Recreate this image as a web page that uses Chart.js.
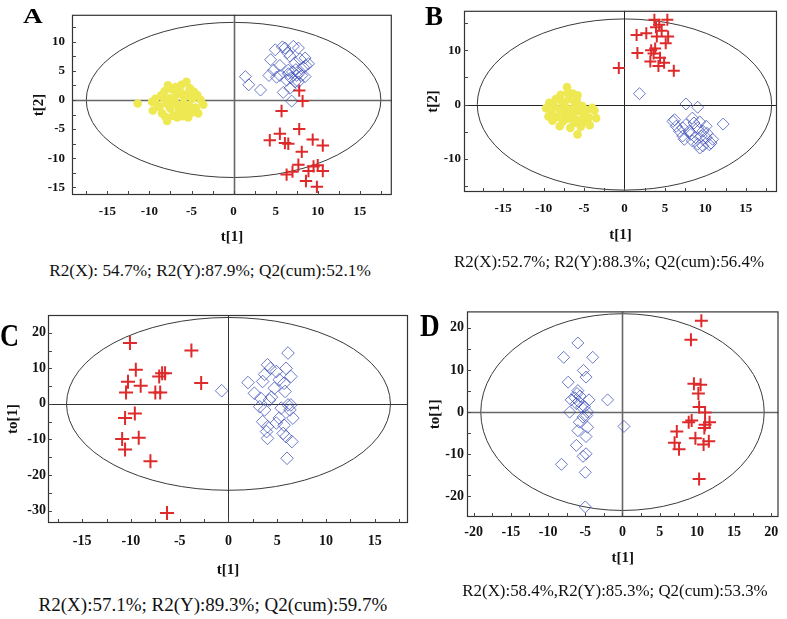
<!DOCTYPE html>
<html><head><meta charset="utf-8">
<script src="https://cdn.jsdelivr.net/npm/chart.js@4"></script>
<style>
body{margin:0;background:#fff;width:787px;height:619px;position:relative;overflow:hidden;font-family:'Liberation Serif',serif}
canvas{position:absolute}
.lab{position:absolute;font-weight:bold;color:#000;line-height:1;transform-origin:left top;white-space:nowrap}
.cap{position:absolute;text-align:center;color:#111;line-height:1;white-space:nowrap}
</style></head><body>
<canvas id="cA" width="400" height="250" style="left:0;top:0"></canvas>
<canvas id="cB" width="392" height="250" style="left:395px;top:0"></canvas>
<canvas id="cC" width="420" height="285" style="left:0;top:300px"></canvas>
<canvas id="cD" width="387" height="285" style="left:400px;top:300px"></canvas>

<div class="lab" style="left:23px;top:6px;font-size:21px;transform:scaleX(1.3)">A</div>
<div class="lab" style="left:425px;top:3px;font-size:27px">B</div>
<div class="lab" style="left:0px;top:320px;font-size:31px;transform:scaleX(0.85)">C</div>
<div class="lab" style="left:420px;top:309px;font-size:32px;transform:scaleX(0.85)">D</div>

<div class="cap" style="left:0px;width:420px;top:262px;font-size:17.3px">R2(X): 54.7%; R2(Y):87.9%; Q2(cum):52.1%</div>
<div class="cap" style="left:409px;width:400px;top:254px;font-size:16.9px">R2(X):52.7%; R2(Y):88.3%; Q2(cum):56.4%</div>
<div class="cap" style="left:3px;width:420px;top:595px;font-size:19px">R2(X):57.1%; R2(Y):89.3%; Q2(cum):59.7%</div>
<div class="cap" style="left:415px;width:400px;top:583px;font-size:16.9px">R2(X):58.4%,R2(Y):85.3%; Q2(cum):53.3%</div>

<script>
// ---------- Panel A : t[1] vs t[2] ----------
const aYellow = [[-11.4,-0.6],[-9.7,-0.3],[-9.6,-1.8],[-9.3,0.2],[-8.8,-1.2],[-8.6,0.8],[-8.5,-2.3],[-8.2,1.5],[-8.0,-0.5],[-7.9,-3.6],[-7.8,2.5],[-7.6,0.3],[-7.5,-1.5],[-7.3,1.8],[-7.2,-2.7],[-7.0,-0.2],[-6.9,2.2],[-6.8,0.9],[-6.6,-1.0],[-6.5,-2.0],[-6.3,1.4],[-6.2,2.6],[-6.0,-0.6],[-5.9,0.4],[-5.8,-1.8],[-5.6,3.1],[-5.5,1.0],[-5.3,-0.9],[-5.2,2.0],[-5.0,-2.2],[-4.9,0.2],[-4.7,1.4],[-4.5,-1.3],[-4.3,0.8],[-4.2,-2.3],[-3.9,0.0],[-3.6,-0.8],[-8.1,-2.9],[-6.7,-3.0],[-7.7,-1.0],[-6.1,-2.8],[-5.4,-3.0],[-9.0,-0.9],[-8.3,0.3]];
const aBlue = [[1.4,4.0],[1.8,2.6],[3.2,1.7],[4.4,6.9],[4.75,5.1],[4.95,8.6],[5.5,4.2],[6.1,8.9],[6.7,7.5],[5.9,1.3],[6.9,-0.2],[5.5,5.9],[6.3,3.4],[7.7,8.9],[7.9,7.0],[8.3,5.6],[8.5,7.2],[8.6,5.9],[7.5,4.2],[8.1,4.2],[7.3,3.1],[5.8,9.1],[4.2,4.2],[5.1,3.9],[6.5,5.1],[7.3,6.4],[6.7,2.0],[7.7,3.1],[6.4,8.1],[7.1,9.2],[6.5,4.5],[7.0,4.8],[7.4,5.2],[6.8,3.8],[7.8,4.6],[8.9,6.2],[8.5,4.0]];
const aRed = [[7.8,1.6],[8.2,-0.2],[5.7,-1.9],[7.8,-5.0],[5.5,-5.8],[4.3,-6.9],[6.1,-7.4],[6.5,-7.5],[9.4,-6.8],[10.6,-7.8],[8.1,-8.9],[7.7,-11.1],[10.0,-11.2],[10.6,-12.2],[8.9,-12.2],[6.3,-12.8],[7.0,-12.3],[8.6,-13.9],[9.9,-14.9],[9.5,-11.4]];
const aEllipse = [17.5, 13.3];
const aXTicks = [-17.5,-15,-12.5,-10,-7.5,-5,-2.5,0,2.5,5,7.5,10,12.5,15,17.5];
const aXLabels = [-15,-10,-5,0,5,10,15];
const aYTicks = [-15,-12.5,-10,-7.5,-5,-2.5,0,2.5,5,7.5,10,12.5];
const aYLabels = [-15,-10,-5,0,5,10];

// ---------- Panel B : t[1] vs t[2] ----------
const bYellow = [[-7.1,3.2],[-7.0,2.2],[-5.8,1.7],[-5.9,0.8],[-9.7,-0.7],[-9.3,0.3],[-9.0,-1.5],[-8.7,-0.3],[-8.5,1.0],[-8.3,-2.3],[-8.0,-4.0],[-8.0,-0.9],[-7.7,0.5],[-7.6,-3.1],[-7.4,-1.7],[-7.3,-0.4],[-7.0,-2.6],[-6.9,1.0],[-6.7,-4.3],[-6.6,-0.9],[-6.4,-2.0],[-6.2,-3.4],[-6.1,0.2],[-5.8,-5.5],[-5.8,-1.2],[-5.6,-2.8],[-5.4,-4.1],[-5.2,-0.3],[-5.0,-1.8],[-4.8,-3.2],[-4.6,-1.0],[-4.4,-2.4],[-4.0,-0.6],[-3.7,-1.1],[-3.5,-2.5],[-4.3,-3.8],[-8.9,-3.0],[-9.4,-2.2],[-7.9,1.8],[-6.4,2.0]];
const bRed = [[-0.7,6.7],[1.5,12.8],[1.6,9.5],[2.7,13.1],[3.3,10.0],[3.6,9.4],[3.2,7.9],[3.7,15.6],[3.9,14.2],[4.3,14.7],[4.0,12.5],[5.3,15.6],[4.4,8.6],[4.2,7.1],[4.9,7.7],[5.4,12.5],[5.1,11.3],[6.1,6.2],[4.6,13.6],[3.8,10.3]];
const bBlue = [[1.85,2.0],[7.6,0.1],[9.05,-0.5],[12.2,-3.6],[6.0,-3.1],[6.4,-4.0],[7.2,-5.8],[7.4,-6.4],[8.4,-2.5],[9.05,-4.3],[9.7,-4.9],[10.1,-4.0],[10.7,-7.1],[9.7,-7.6],[9.05,-7.3],[8.0,-4.9],[6.8,-4.9],[8.6,-3.4],[10.1,-6.1],[9.5,-5.8],[7.6,-3.7],[10.2,-5.3],[10.9,-6.4],[8.4,-6.7],[9.3,-8.0],[8.8,-6.1],[10.5,-7.4],[6.2,-2.8],[7.2,-4.3],[9.3,-3.2],[8.2,-5.5]];
const bEllipse = [18.2, 15.75];
const bXTicks = [-17.5,-15,-12.5,-10,-7.5,-5,-2.5,0,2.5,5,7.5,10,12.5,15,17.5];
const bXLabels = [-15,-10,-5,0,5,10,15];
const bYTicks = [-15,-10,-5,0,5,10,15];
const bYLabels = [-10,0,10];

// ---------- Panel C : t[1] vs to[1] ----------
const cRed = [[-10.1,17.1],[-3.8,15.0],[-9.5,9.6],[-6.8,8.6],[-6.5,8.6],[-7.1,7.7],[-10.3,6.2],[-9.0,5.1],[-2.8,5.9],[-10.5,3.2],[-7.5,3.2],[-7.0,3.2],[-9.6,-2.7],[-10.6,-4.0],[-9.2,-9.5],[-10.9,-9.9],[-10.6,-12.8],[-8.0,-16.1],[-6.3,-30.7]];
const cBlue = [[-0.7,3.7],[6.1,14.3],[2.0,6.0],[4.0,11.0],[4.3,10.0],[5.9,10.0],[6.4,7.7],[3.5,6.3],[4.9,9.1],[5.2,6.8],[5.7,5.8],[5.8,3.5],[2.65,3.0],[3.3,1.6],[4.2,1.1],[3.2,-0.8],[3.7,-1.7],[5.4,-1.2],[6.1,-0.3],[6.4,-0.3],[6.3,-1.7],[5.2,-4.0],[6.6,-4.0],[3.5,-5.0],[4.0,-6.4],[3.9,-7.8],[4.0,-9.7],[5.6,-8.3],[5.9,-9.2],[6.5,-10.6],[6.0,-15.3],[4.9,-5.4],[5.7,-6.0],[4.4,1.9],[4.7,4.4],[3.7,8.3]];
const cEllipse = [16.6, 24.3];
const cXTicks = [-17.5,-15,-12.5,-10,-7.5,-5,-2.5,0,2.5,5,7.5,10,12.5,15,17.5];
const cXLabels = [-15,-10,-5,0,5,10,15];
const cYTicks = [-30,-25,-20,-15,-10,-5,0,5,10,15,20];
const cYLabels = [-30,-20,-10,0,10,20];

// ---------- Panel D : t[1] vs to[1] ----------
const dBlue = [[-6.0,16.4],[-7.9,13.0],[-4.0,13.0],[-5.25,9.9],[-4.9,8.3],[-7.3,7.1],[-6.0,5.1],[-6.1,4.4],[-5.7,3.8],[-2.0,2.9],[-6.9,2.9],[-4.5,2.9],[-6.4,3.4],[-5.9,2.5],[-7.1,0.0],[-4.7,0.0],[-5.5,1.2],[-6.2,2.0],[-5.1,1.3],[0.2,-3.4],[-5.8,-2.4],[-4.7,-3.6],[-6.0,-4.4],[-4.9,-5.8],[-5.3,-1.2],[-6.2,-7.9],[-4.9,-9.9],[-5.3,-10.5],[-8.2,-12.4],[-5.0,-14.3],[-5.0,-22.5],[-4.8,-0.8]];
const dRed = [[10.6,21.7],[9.2,17.2],[9.6,6.7],[10.5,6.5],[10.2,4.4],[10.3,1.2],[11.1,-0.1],[8.9,-2.4],[9.3,-2.0],[11.7,-2.4],[11.1,-3.0],[11.0,-3.8],[7.3,-4.6],[9.8,-6.2],[11.6,-6.9],[10.9,-7.7],[7.0,-7.3],[7.6,-8.8],[10.3,-15.9]];
const dEllipse = [19.05, 23.35];
const dXTicks = [-20,-17.5,-15,-12.5,-10,-7.5,-5,-2.5,0,2.5,5,7.5,10,12.5,15,17.5,20];
const dXLabels = [-20,-15,-10,-5,0,5,10,15,20];
const dYTicks = [-20,-15,-10,-5,0,5,10,15,20];
const dYLabels = [-20,-10,0,10,20];

const RED = '#de2a2a', YEL = '#eee852', BLU = 'rgba(52,72,182,0.72)';
const toPts = arr => arr.map(p => ({x: p[0], y: p[1]}));
const yellowSet = arr => ({data: toPts(arr), pointStyle: 'circle', pointRadius: 4.3, pointBackgroundColor: YEL, pointBorderWidth: 0, showLine: false});
const blueSet = (arr, r) => ({data: toPts(arr), pointStyle: 'rectRot', pointRadius: r, pointBackgroundColor: 'rgba(0,0,0,0)', pointBorderColor: BLU, pointBorderWidth: 1, showLine: false});
const redSet = (arr, r) => ({data: toPts(arr), pointStyle: 'cross', pointRadius: r, pointBorderColor: RED, pointBorderWidth: 2, showLine: false});

const pcaFrame = {
  id: 'pcaFrame',
  beforeDatasetsDraw(chart, args, o) {
    const {ctx, chartArea: {left, top, right, bottom}, scales: {x, y}} = chart;
    ctx.save();
    // Hotelling ellipse
    const cx = x.getPixelForValue(0), cy = y.getPixelForValue(0);
    const rx = x.getPixelForValue(o.ellipse[0]) - cx;
    const ry = cy - y.getPixelForValue(o.ellipse[1]);
    ctx.strokeStyle = '#3a3a3a'; ctx.lineWidth = 1;
    ctx.beginPath(); ctx.ellipse(cx, cy, rx, ry, 0, 0, Math.PI * 2); ctx.stroke();
    // zero lines
    ctx.strokeStyle = o.zeroColor; ctx.lineWidth = o.zeroWidth;
    ctx.beginPath();
    ctx.moveTo(Math.round(cx) + 0.5, top); ctx.lineTo(Math.round(cx) + 0.5, bottom);
    ctx.moveTo(left, Math.round(cy) + 0.5); ctx.lineTo(right, Math.round(cy) + 0.5);
    ctx.stroke();
    // frame
    ctx.strokeStyle = o.frameColor; ctx.lineWidth = 1.2;
    ctx.strokeRect(left + 0.5, top + 0.5, right - left - 1, bottom - top - 1);
    // inward tick marks
    ctx.lineWidth = 1; ctx.strokeStyle = '#444';
    ctx.beginPath();
    x.ticks.forEach(t => { const px = Math.round(x.getPixelForValue(t.value)) + 0.5; ctx.moveTo(px, bottom); ctx.lineTo(px, bottom - 4); });
    y.ticks.forEach(t => { const py = Math.round(y.getPixelForValue(t.value)) + 0.5; ctx.moveTo(left, py); ctx.lineTo(left + 4, py); });
    ctx.stroke();
    ctx.restore();
  }
};

function makeChart(id, c) {
  const tickFont = {family: 'Liberation Serif', size: c.fs, weight: 'bold'};
  const titleFont = {family: 'Liberation Serif', size: c.ts, weight: 'bold'};
  return new Chart(document.getElementById(id), {
    type: 'scatter',
    data: {datasets: c.datasets},
    options: {
      responsive: false, animation: false, events: [],
      layout: {padding: {left: 0, top: c.padTop, right: c.padRight, bottom: 0}},
      plugins: {legend: {display: false}, tooltip: {enabled: false},
        pcaFrame: {ellipse: c.ellipse, zeroColor: c.zeroColor, zeroWidth: c.zeroWidth, frameColor: c.frameColor}},
      scales: {
        x: {type: 'linear', position: 'bottom', min: c.xr[0], max: c.xr[1],
          grid: {display: false, drawTicks: false}, border: {display: false},
          afterBuildTicks: s => { s.ticks = c.xt.map(v => ({value: v})); },
          afterFit: s => { s.height = c.xh; },
          ticks: {padding: c.xpad, maxRotation: 0, autoSkip: false, color: '#111', font: tickFont,
            callback: v => c.xl.includes(v) ? String(v) : ''},
          title: {display: true, text: c.xTitle, color: '#111', font: titleFont, padding: {top: 0, bottom: c.xtp}}},
        y: {type: 'linear', position: 'left', min: c.yr[0], max: c.yr[1],
          grid: {display: false, drawTicks: false}, border: {display: false},
          afterBuildTicks: s => { s.ticks = c.yt.map(v => ({value: v})); },
          afterFit: s => { s.width = c.yw; },
          ticks: {padding: c.ypad, autoSkip: false, color: '#111', font: tickFont,
            callback: v => c.yl.includes(v) ? String(v) : ''},
          title: {display: true, text: c.yTitle, color: '#111', font: titleFont, padding: {top: c.ytp, bottom: 0}}}
      }
    },
    plugins: [pcaFrame]
  });
}

makeChart('cA', {
  datasets: [yellowSet(aYellow), blueSet(aBlue, 6), redSet(aRed, 6.2)],
  ellipse: aEllipse, zeroColor: '#666', zeroWidth: 1.6, frameColor: '#333',
  xr: [-19.2, 18.8], yr: [-16.3, 14.6], xt: aXTicks, xl: aXLabels, yt: aYTicks, yl: aYLabels,
  padTop: 7, padRight: 3, xh: 55, yw: 72, xpad: 9, ypad: 7, xtp: 4, ytp: 30, fs: 13, ts: 15,
  xTitle: 't[1]', yTitle: 't[2]'
});
makeChart('cB', {
  datasets: [yellowSet(bYellow), blueSet(bBlue, 6), redSet(bRed, 6)],
  ellipse: bEllipse, zeroColor: '#222', zeroWidth: 1, frameColor: '#333',
  xr: [-19.84, 18.86], yr: [-16.1, 17.25], xt: bXTicks, xl: bXLabels, yt: bYTicks, yl: bYLabels,
  padTop: 7, padRight: 10, xh: 58, yw: 69, xpad: 9, ypad: 3, xtp: 6, ytp: 29, fs: 13, ts: 15,
  xTitle: 't[1]', yTitle: 't[2]'
});
makeChart('cC', {
  datasets: [blueSet(cBlue, 6.3), redSet(cRed, 7)],
  ellipse: cEllipse, zeroColor: '#333', zeroWidth: 1, frameColor: '#333',
  xr: [-18.5, 18.4], yr: [-33.5, 25.0], xt: cXTicks, xl: cXLabels, yt: cYTicks, yl: cYLabels,
  padTop: 15, padRight: 12, xh: 62, yw: 48, xpad: 10, ypad: 2, xtp: 6, ytp: 4, fs: 14, ts: 15,
  xTitle: 't[1]', yTitle: 'to[1]'
});
makeChart('cD', {
  datasets: [blueSet(dBlue, 6), redSet(dRed, 6.5)],
  ellipse: dEllipse, zeroColor: '#666', zeroWidth: 1.6, frameColor: '#333',
  xr: [-20.9, 20.97], yr: [-24.9, 23.9], xt: dXTicks, xl: dXLabels, yt: dYTicks, yl: dYLabels,
  padTop: 11, padRight: 2, xh: 68, yw: 67, xpad: 7, ypad: 3, xtp: 18, ytp: 26, fs: 14, ts: 15,
  xTitle: 't[1]', yTitle: 'to[1]'
});
</script>
</body></html>
